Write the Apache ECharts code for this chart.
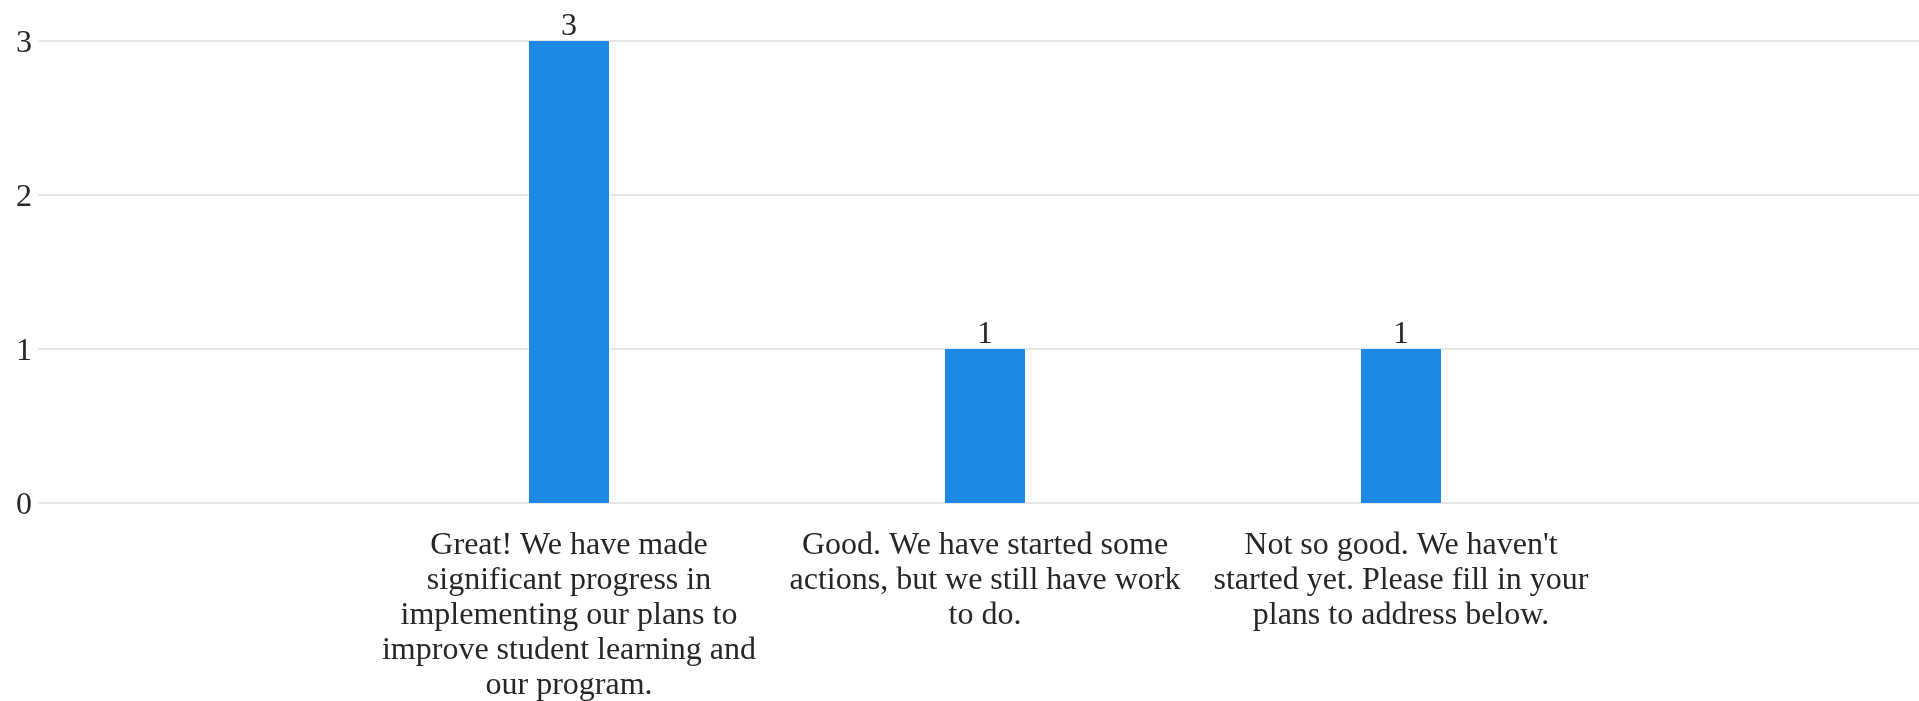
<!DOCTYPE html>
<html>
<head>
<meta charset="utf-8">
<script src="https://cdn.jsdelivr.net/npm/echarts@6/dist/echarts.min.js"></script>
<style>
html,body{margin:0;padding:0;background:#fff;}
#chart{width:1919px;height:701px;}
</style>
</head>
<body>
<div id="chart"></div>
<script>
const categories = [
  "Great! We have made significant progress in implementing our plans to improve student learning and our program.",
  "Good. We have started some actions, but we still have work to do.",
  "Not so good. We haven't started yet. Please fill in your plans to address below."
];
const values = [3, 1, 1];
const yTicks = { min: 0, max: 3, interval: 1 };

const FONT = '"Liberation Serif", "Times New Roman", serif';
const TEXT = '#262626';
const FONT_SIZE = 32;
const WRAP_WIDTH = 400;

const measureCtx = document.createElement('canvas').getContext('2d');
measureCtx.font = FONT_SIZE + 'px ' + FONT;
function wrapText(text) {
  const words = text.split(' ');
  const lines = [];
  let cur = '';
  words.forEach(function (w) {
    const test = cur ? cur + ' ' + w : w;
    if (cur && measureCtx.measureText(test).width > WRAP_WIDTH) {
      lines.push(cur);
      cur = w;
    } else {
      cur = test;
    }
  });
  if (cur) lines.push(cur);
  return lines.join('\n');
}

const chart = echarts.init(document.getElementById('chart'), null, { renderer: 'canvas' });
chart.setOption({
  animation: false,
  grid: [
    { left: 38, right: 0, top: 41, bottom: 198, outerBoundsMode: 'none', containLabel: false },
    { left: 361, right: 310, top: 41, bottom: 198, outerBoundsMode: 'none', containLabel: false }
  ],
  xAxis: [
    { gridIndex: 0, type: 'category', data: [''], show: false },
    {
      gridIndex: 1, type: 'category', data: categories,
      axisLine: { show: false }, axisTick: { show: false },
      axisLabel: {
        interval: 0, formatter: wrapText,
        fontFamily: FONT, fontSize: FONT_SIZE, lineHeight: 35, color: TEXT,
        margin: 25, align: 'center'
      }
    }
  ],
  yAxis: [
    {
      gridIndex: 0, type: 'value', min: yTicks.min, max: yTicks.max, interval: yTicks.interval,
      axisLine: { show: false }, axisTick: { show: false },
      axisLabel: { fontFamily: FONT, fontSize: FONT_SIZE, color: TEXT, margin: 6, verticalAlign: 'top', lineHeight: 6 },
      splitLine: { lineStyle: { color: '#e6e6e6', width: 2 } }
    },
    {
      gridIndex: 1, type: 'value', min: yTicks.min, max: yTicks.max, interval: yTicks.interval,
      show: false, splitLine: { show: false }
    }
  ],
  series: [{
    type: 'bar', xAxisIndex: 1, yAxisIndex: 1,
    data: values, barWidth: 80,
    itemStyle: { color: '#1e88e5' },
    label: {
      show: true, position: 'top', distance: 2, offset: [0, 4],
      fontFamily: FONT, fontSize: FONT_SIZE, color: TEXT
    }
  }]
});
</script>
</body>
</html>
